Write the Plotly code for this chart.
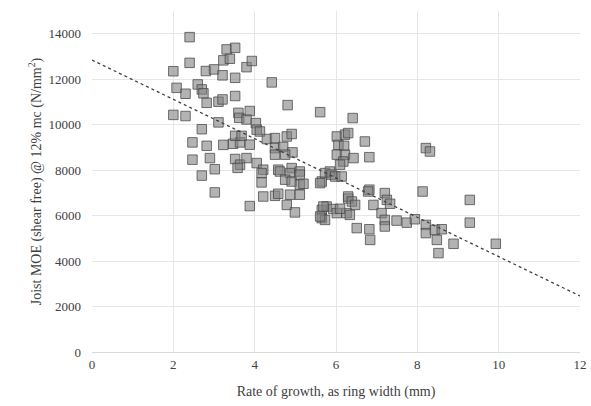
import numpy as np
import plotly.graph_objects as go

ring_width = [
    2.0, 2.0, 2.08, 2.3, 2.3, 2.4, 2.4, 2.47, 2.47, 2.6, 2.7, 2.74, 2.7, 2.7, 2.8, 2.82, 2.82, 2.9, 3.0, 3.02, 3.02,
    3.11, 3.11, 3.21, 3.21, 3.23, 3.31, 3.52, 3.39, 3.52, 3.52, 3.23, 3.47, 3.64, 3.52, 3.68, 3.88, 3.52, 3.64, 3.58,
    3.8, 3.6, 3.62, 3.8, 3.88, 3.8, 3.93, 3.88,
    4.03, 4.05, 4.13, 4.3, 4.5, 4.79, 4.91, 4.5, 4.7, 4.93, 4.5, 4.75, 4.05, 4.21, 4.58, 4.91, 4.17, 4.17, 4.62, 4.87,
    4.75, 4.91, 4.21, 4.5, 4.58, 4.87, 4.79, 4.99, 4.42, 4.81,
    5.11, 5.11, 5.11, 5.2, 5.11, 5.61, 5.65, 5.61, 5.73, 5.85, 5.89, 5.98, 5.65, 5.77, 5.69, 5.93, 5.65, 5.73, 5.61,
    6.02, 6.22, 6.3, 6.06, 6.2, 6.02, 6.22, 6.18, 6.43, 6.1, 6.14, 6.41, 6.71, 6.82, 6.3, 6.3, 6.39, 6.47, 6.02, 6.26,
    6.34, 6.1, 6.51, 6.82, 6.84, 6.82, 6.92, 6.79,
    7.2, 7.25, 7.33, 7.12, 7.2, 7.2, 7.49, 7.74, 7.94, 8.13, 8.21, 8.31, 8.21, 8.21, 8.43, 8.6, 8.48, 8.52, 8.89,
    9.29, 9.29, 9.93,
]
joist_moe = [
    12350, 10430, 11620, 11360, 10380, 13850, 12720, 9220, 8460, 11770, 11550, 11380, 9800, 7760, 12360, 10960, 9070, 8530, 12430, 8040, 7020,
    11010, 10100, 11110, 12170, 12830, 13310, 13380, 12900, 12060, 11260, 9110, 9160, 9220, 9510, 9510, 9120, 8490, 8240, 8100,
    8530, 10520, 10300, 10230, 10600, 12530, 12800, 6420,
    10070, 9780, 9700, 9370, 9410, 9480, 9590, 8970, 9020, 8780, 8680, 8680, 8310, 8020, 8020, 8090, 7870, 7460, 7940, 7870,
    7580, 7500, 6840, 6870, 6960, 6920, 6470, 6140, 11860, 10860,
    7940, 7800, 7360, 7400, 6920, 10550, 7500, 7430, 7870, 7940, 7800, 7720, 6250, 6400, 6400, 6290, 5890, 5810, 5960,
    9480, 9560, 9630, 9110, 9070, 8680, 8680, 8380, 8530, 8240, 7720, 10290, 9260, 8570, 6750, 6840, 6620, 6470, 6110, 6110,
    6030, 6300, 5450, 5400, 4930, 7140, 6470, 7060,
    6990, 6690, 6520, 6110, 5810, 5520, 5780, 5690, 5840, 7060, 8970, 8820, 5590, 5230, 5370, 5400, 4930, 4350, 4760,
    6690, 5690, 4760,
]

x_ticks = [0, 2, 4, 6, 8, 10, 12]
x_tick_labels = ["0", "2", "4", "6", "8", "10", "12"]
y_ticks = [0, 2000, 4000, 6000, 8000, 10000, 12000, 14000]
y_tick_labels = ["0", "2000", "4000", "6000", "8000", "10000", "12000", "14000"]

# linear trend fitted to the data
slope, intercept = np.polyfit(ring_width, joist_moe, 1)
trend_x = np.array([0, 12])
trend_y = intercept + slope * trend_x

font_family = "'Liberation Serif', 'Times New Roman', 'DejaVu Serif', serif"
tick_color = "#404040"
grid_color = "#e6e6e6"

fig = go.Figure()
fig.add_trace(go.Scatter(
    x=ring_width, y=joist_moe, mode="markers",
    marker=dict(symbol="square", size=9.5, color="rgba(128,128,128,0.6)",
                line=dict(color="rgba(70,70,70,0.75)", width=1)),
    showlegend=False,
))
fig.add_trace(go.Scatter(
    x=trend_x, y=trend_y, mode="lines",
    line=dict(color="#404040", width=1.3, dash="dot"),
    showlegend=False,
))

fig.update_layout(
    width=591, height=406,
    margin=dict(l=92, r=11, t=11, b=54, autoexpand=False),
    paper_bgcolor="white", plot_bgcolor="white",
    font=dict(family=font_family, size=13, color=tick_color),
    xaxis=dict(
        range=[0, 12], tickvals=x_ticks, ticktext=x_tick_labels, showgrid=True,
        gridcolor=grid_color, gridwidth=1, automargin=False,
        zeroline=False, showline=True, linecolor="#d9d9d9", ticks="",
        title=dict(text="Rate of growth, as ring width (mm)", standoff=15,
                   font=dict(family=font_family, size=14, color=tick_color)),
        tickfont=dict(family=font_family, size=13, color=tick_color),
    ),
    yaxis=dict(
        range=[0, 15000], tickvals=y_ticks, ticktext=y_tick_labels, showgrid=True,
        gridcolor=grid_color, gridwidth=1, automargin=False,
        zeroline=False, showline=False, ticks="", ticklabelstandoff=10,
        title=dict(text="Joist MOE (shear free) @ 12% mc (N/mm<sup>2</sup>)", standoff=3,
                   font=dict(family=font_family, size=14, color=tick_color)),
        tickfont=dict(family=font_family, size=13, color=tick_color),
    ),
)

fig.write_html("out.html")
